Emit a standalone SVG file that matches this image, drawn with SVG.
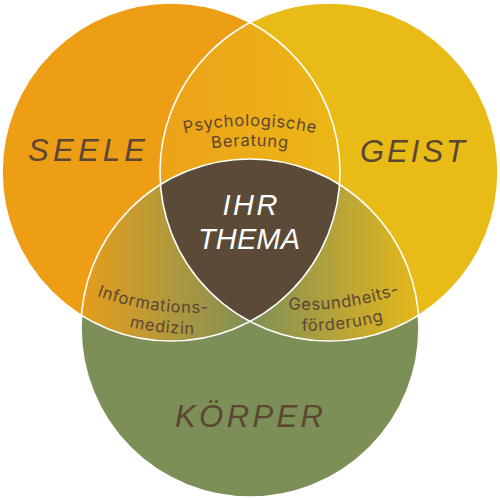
<svg xmlns="http://www.w3.org/2000/svg" xmlns:xlink="http://www.w3.org/1999/xlink" width="500" height="500" viewBox="0 0 500 500">
<style>
.hand{font-family:"Liberation Sans","DejaVu Sans",sans-serif;font-style:italic;font-size:31px;fill:#5b4634;text-anchor:middle}
.hand.w{fill:#ffffff;font-size:29px}
.lab{font-family:Inter,"Noto Sans",sans-serif;font-size:16.5px;fill:#5b4634;letter-spacing:0.7px}
.ring{fill:none;stroke:#ffffff;stroke-width:1.6}
</style>
<defs>
<clipPath id="cL"><circle cx="171" cy="172" r="169"/></clipPath>
<clipPath id="cR"><circle cx="329" cy="172" r="169"/></clipPath>
<clipPath id="cB"><circle cx="250" cy="328" r="169"/></clipPath>
<linearGradient id="gTop" gradientUnits="userSpaceOnUse" x1="165" y1="0" x2="335" y2="0">
<stop offset="0" stop-color="#eda218"/><stop offset="1" stop-color="#ebb617"/>
</linearGradient>
<linearGradient id="gLeft" gradientUnits="userSpaceOnUse" x1="85" y1="0" x2="250" y2="0">
<stop offset="0" stop-color="#e49c1c"/><stop offset="0.5" stop-color="#b3993c"/><stop offset="1" stop-color="#7e9055"/>
</linearGradient>
<linearGradient id="gRight" gradientUnits="userSpaceOnUse" x1="250" y1="0" x2="415" y2="0">
<stop offset="0" stop-color="#7e9055"/><stop offset="0.5" stop-color="#b4a23a"/><stop offset="1" stop-color="#e2b71c"/>
</linearGradient>
<path id="pT1" d="M100,166.2 A300,300 0 0 1 400,166.2"/>
<path id="pT2" d="M110,183.5 A280,280 0 0 1 390,183.5"/>
<path id="pL1" d="M-20.3,215.8 A287,287 0 0 0 344.5,271"/>
<path id="pL2" d="M-27.3,239.2 A308,308 0 0 0 366.6,281.8"/>
<path id="pR1" d="M154.9,267.1 A284,284 0 0 0 516.4,215.7"/>
<path id="pR2" d="M139.8,282.4 A305,305 0 0 0 528.8,233.2"/>
</defs>

<g id="seele">
<circle cx="171" cy="172" r="169" fill="#ee9e14"/>
</g>
<g id="geist">
<circle cx="329" cy="172" r="169" fill="#e9bb16"/>
</g>
<g id="koerper">
<circle cx="250" cy="328" r="169" fill="#7c8f57"/>
</g>
<g id="psychologische-beratung">
<circle cx="329" cy="172" r="169" fill="url(#gTop)" clip-path="url(#cL)"/>
</g>
<g id="informationsmedizin">
<circle cx="250" cy="328" r="169" fill="url(#gLeft)" clip-path="url(#cL)"/>
</g>
<g id="gesundheitsfoerderung">
<circle cx="250" cy="328" r="169" fill="url(#gRight)" clip-path="url(#cR)"/>
</g>
<g id="ihr-thema">
<g clip-path="url(#cR)"><circle cx="250" cy="328" r="169" fill="#5c4a38" clip-path="url(#cL)"/></g>
</g>
<g id="outlines">
<circle class="ring" cx="171" cy="172" r="169"/>
<circle class="ring" cx="329" cy="172" r="169"/>
<circle class="ring" cx="250" cy="328" r="169"/>
</g>
<g id="connectors"/>

<g id="labels">
<text class="hand" x="86.5" y="161" textLength="117" lengthAdjust="spacing">SEELE</text>
<text class="hand" x="412.5" y="162" textLength="105" lengthAdjust="spacing">GEIST</text>
<text class="hand" x="249" y="427" textLength="148" lengthAdjust="spacing">KÖRPER</text>
<text class="hand w" x="250" y="215" textLength="55" lengthAdjust="spacing">IHR</text>
<text class="hand w" x="249" y="249" textLength="102" lengthAdjust="spacing">THEMA</text>

<text class="lab" text-anchor="middle"><textPath href="#pT1" xlink:href="#pT1" startOffset="50%">Psychologische</textPath></text>
<text class="lab" text-anchor="middle"><textPath href="#pT2" xlink:href="#pT2" startOffset="50%">Beratung</textPath></text>
<text class="lab" text-anchor="middle"><textPath href="#pL1" xlink:href="#pL1" startOffset="50%">Informations-</textPath></text>
<text class="lab" text-anchor="middle"><textPath href="#pL2" xlink:href="#pL2" startOffset="50%">medizin</textPath></text>
<text class="lab" text-anchor="middle"><textPath href="#pR1" xlink:href="#pR1" startOffset="50%">Gesundheits-</textPath></text>
<text class="lab" text-anchor="middle"><textPath href="#pR2" xlink:href="#pR2" startOffset="50%">förderung</textPath></text>
</g>
</svg>
